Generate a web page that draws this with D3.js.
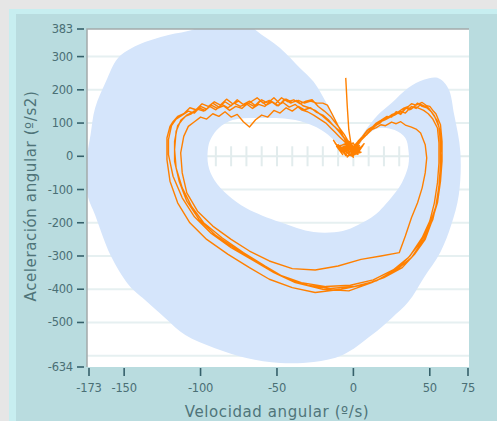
<!DOCTYPE html>
<html>
<head>
<meta charset="utf-8">
<script src="https://cdn.jsdelivr.net/npm/d3@7"></script>
<style>
    body { margin: 0; background: #e6e6e6; }
    .tickLabel { font-family: "DejaVu Sans", sans-serif; font-size: 11.5px; fill: #4a6f75; letter-spacing: -0.2px; }
    .axisTitle { font-family: "DejaVu Sans", sans-serif; font-size: 15px; fill: #4f7479; letter-spacing: 0.6px; }
</style>
</head>
<body>
<script>
//SVG dimension variables
var w = 497, h = 421;

//tick values of both axes
var yTicks = [383, 300, 200, 100, 0, -100, -200, -300, -400, -500, -634];
var xTicks = [-173, -150, -100, -50, 0, 50, 75];
var gridLevels = [300, 200, 100, -100, -200, -300, -400, -500, -600];
var minorTicks = [-130, -120, -110, -100, -90, -80, -70, -60, -50, -40, -30, -20, -10, 0, 10, 20, 30, 40, 50];

//normal range band (velocity, acceleration): outer edge and hole
var bandOuter = [
    [-84, 440], [-104, 383], [-121, 365], [-141, 335], [-154, 296], [-162, 224], [-169, 145],
    [-172, 64], [-175, -26], [-174, -116], [-169, -177], [-159, -297], [-147, -387],
    [-138, -426], [-123, -487], [-110, -538], [-91, -577], [-70, -607], [-48, -622],
    [-26, -619], [-7, -598], [12, -538], [25, -487], [36, -438], [46, -366], [57, -288],
    [64, -207], [69, -116], [70, 13], [66, 124], [62, 205], [55, 236], [46, 230],
    [36, 206], [25, 160], [16, 124], [8, 79], [-1, 25], [-6, 49], [-11, 103], [-18, 163],
    [-26, 224], [-35, 266], [-48, 326], [-64, 380], [-74, 425]
];
var bandInner = [
    [-93, 55], [-95, 28], [-95, -26], [-91, -71], [-82, -117], [-70, -156], [-48, -198],
    [-26, -228], [-7, -225], [3, -207], [14, -177], [25, -123], [31, -86], [36, -26],
    [36, 19], [34, 55], [27, 79], [17, 85], [8, 61], [-1, 4], [-9, 34], [-19, 73],
    [-26, 91], [-38, 109], [-59, 115], [-79, 109], [-88, 85]
];

//measured trace (velocity, acceleration), in recording order
var spike = [[-5, 236], [-4, 150], [-3, 80], [-1, 20]];
var cycle1 = [
    [-1, 19], [3, 45], [6, 60], [9, 78], [12, 86], [15, 100], [18, 108], [22, 120], [25, 118],
    [28, 134], [31, 128], [34, 146], [37, 140], [40, 150], [43, 144], [46, 138], [49, 128],
    [52, 112], [55, 85], [56, 40], [56, -20], [55, -80], [53, -140], [50, -195], [45, -245],
    [37, -300], [28, -340], [15, -375], [0, -392], [-15, -398], [-30, -388], [-45, -365],
    [-58, -330], [-72, -290], [-86, -245], [-98, -200], [-106, -150], [-112, -95], [-116, -35],
    [-117, 20], [-116, 75], [-113, 108], [-110, 120], [-106, 128], [-102, 142], [-98, 136],
    [-94, 150], [-90, 140], [-86, 156], [-82, 146], [-78, 160], [-74, 150], [-70, 158],
    [-66, 144], [-62, 156], [-58, 150], [-54, 166], [-50, 152], [-46, 162], [-42, 148],
    [-38, 156], [-34, 140], [-30, 134], [-26, 124], [-22, 112], [-18, 100], [-15, 86],
    [-12, 72], [-9, 58], [-6, 45], [-2, 25]
];
var noise1 = [[-3, 30], [-8, 15], [-12, 40], [-6, 8], [-10, 28], [-2, 45], [1, 5], [-5, 22], [4, 32], [-4, -2], [-1, 25], [3, 10], [7, 38], [0, 2], [2, 18]];
var cycle2 = [
    [2, 30], [5, 48], [8, 62], [11, 80], [14, 92], [17, 98], [20, 112], [24, 120], [28, 132],
    [31, 126], [35, 148], [38, 142], [42, 160], [45, 150], [48, 146], [51, 134], [53, 120],
    [55, 106], [57, 70], [58, 10], [57, -60], [55, -130], [52, -190], [46, -250], [38, -305],
    [26, -350], [12, -380], [-3, -405], [-20, -400], [-38, -380], [-52, -350], [-65, -315],
    [-80, -275], [-93, -232], [-104, -182], [-112, -125], [-118, -60], [-121, 5], [-121, 50],
    [-119, 92], [-116, 112], [-112, 124], [-108, 136], [-104, 130], [-100, 150], [-96, 142],
    [-92, 160], [-88, 148], [-84, 164], [-80, 152], [-76, 170], [-72, 156], [-68, 166],
    [-64, 152], [-60, 170], [-56, 160], [-52, 176], [-48, 158], [-44, 172], [-40, 162],
    [-36, 168], [-32, 160], [-28, 166], [-24, 160], [-20, 160], [-17, 154], [-14, 128],
    [-12, 110], [-10, 92], [-8, 73], [-5, 45], [-3, 30]
];
var noise2 = [[-9, 22], [-13, 48], [-7, 5], [-11, 30], [-3, 38], [0, -3], [-6, 18], [2, 28], [-2, 2], [5, 12], [-2, 20]];
var cycle3 = [
    [0, 20], [3, 38], [6, 55], [9, 66], [12, 80], [15, 86], [18, 95], [21, 92], [25, 103],
    [28, 98], [31, 104], [34, 94], [38, 88], [41, 82], [44, 70], [47, 35], [48, -5], [47, -50],
    [45, -95], [42, -140], [38, -185], [34, -240], [30, -290], [18, -300], [5, -310],
    [-10, -330], [-25, -342], [-40, -338], [-55, -315], [-68, -285], [-80, -250], [-92, -210],
    [-102, -165], [-109, -110], [-112, -50], [-113, 10], [-111, 60], [-108, 90], [-104, 104],
    [-100, 118], [-96, 112], [-92, 128], [-88, 120], [-84, 134], [-80, 118], [-76, 126],
    [-72, 104], [-68, 88], [-64, 110], [-60, 124], [-56, 118], [-52, 138], [-48, 130],
    [-44, 146], [-40, 136], [-36, 150], [-32, 140], [-28, 146], [-24, 132], [-20, 124],
    [-16, 108], [-13, 92], [-10, 80], [-7, 62], [-5, 50], [-1, 28]
];
var noise3 = [[-6, 12], [-10, 35], [-4, 0], [-8, 26], [0, 40], [3, 6], [-3, 14], [6, 30], [1, 15]];
var cycle4 = [
    [-2, 18], [1, 34], [4, 50], [7, 64], [10, 82], [13, 90], [17, 105], [21, 112], [25, 125],
    [29, 132], [33, 145], [36, 150], [38, 158], [41, 154], [45, 162], [48, 152], [50, 150],
    [52, 138], [54, 128], [57, 95], [58, 45], [58, -15], [57, -75], [55, -140], [51, -200],
    [47, -250], [40, -295], [32, -335], [20, -365], [8, -385], [-8, -400], [-25, -410],
    [-40, -395], [-55, -370], [-68, -335], [-82, -295], [-96, -250], [-107, -200],
    [-115, -140], [-120, -75], [-122, -10], [-122, 55], [-120, 90], [-118, 104], [-115, 120],
    [-111, 128], [-107, 146], [-103, 140], [-99, 158], [-95, 150], [-91, 164], [-87, 154],
    [-83, 172], [-79, 158], [-75, 166], [-71, 152], [-67, 164], [-63, 176], [-59, 160],
    [-55, 168], [-51, 158], [-47, 176], [-43, 164], [-39, 170], [-35, 158], [-31, 166],
    [-27, 170], [-23, 150], [-19, 136], [-15, 120], [-12, 102], [-9, 85], [-6, 66],
    [-4, 50], [0, 25]
];
var noise4 = [[-4, 10], [-9, 32], [-5, 2], [-1, 36], [2, 8], [-2, 22]];
var cycle5 = [
    [1, 22], [5, 48], [8, 62], [11, 80], [14, 90], [18, 104], [21, 110], [24, 118], [27, 124],
    [31, 135], [34, 130], [38, 150], [41, 144], [44, 156], [47, 150], [49, 146], [51, 134],
    [53, 122], [56, 88], [57, 40], [57, -25], [56, -90], [54, -150], [50, -205], [44, -258],
    [36, -305], [26, -342], [13, -372], [-2, -388], [-18, -392], [-34, -380], [-48, -358],
    [-62, -322], [-76, -282], [-90, -238], [-101, -190], [-109, -135], [-114, -75],
    [-117, -15], [-117, 45], [-115, 92], [-112, 110], [-109, 124], [-105, 134], [-101, 146],
    [-97, 138], [-93, 154], [-89, 144], [-85, 152], [-81, 138], [-77, 150], [-73, 144],
    [-69, 160], [-65, 150], [-61, 168], [-57, 154], [-53, 164], [-49, 152], [-45, 172],
    [-41, 160], [-37, 168], [-33, 152], [-29, 146], [-25, 138], [-21, 124], [-18, 112],
    [-15, 100], [-12, 88], [-9, 72], [-7, 60], [-3, 35], [-6, 15], [-1, 28]
];
var trace = [].concat(spike, cycle1, noise1, cycle2, noise2, cycle3, noise3, cycle4, noise4, cycle5);

//container block
var container = d3.select("body")
    .append("svg")
    .attr("width", w)
    .attr("height", h)
    .attr("class", "container");

//gray page, light cyan rim and teal panel
container.append("rect")
    .attr("width", w)
    .attr("height", h)
    .style("fill", "#e6e6e6");
container.append("rect")
    .attr("x", 9)
    .attr("y", 9)
    .attr("width", w - 9)
    .attr("height", h - 9)
    .style("fill", "#c7eef0");
container.append("rect")
    .attr("x", 16)
    .attr("y", 14)
    .attr("width", w - 16)
    .attr("height", h - 14)
    .style("fill", "#b9dcdf");

//scales
var x = d3.scaleLinear()
    .domain([-173, 75])
    .range([89, 468]);
var y = d3.scaleLinear()
    .domain([-634, 383])
    .range([367, 29]);

//plot edges (plotTop, since "top" is taken by window)
var plotLeft = x(-173) - 2, plotRight = x(75) + 1, plotTop = y(383), plotBottom = y(-634);

//plot area
container.append("rect")
    .attr("class", "plotArea")
    .attr("x", plotLeft)
    .attr("y", plotTop)
    .attr("width", plotRight - plotLeft)
    .attr("height", plotBottom - plotTop)
    .style("fill", "#ffffff");

container.append("clipPath")
    .attr("id", "plotClip")
    .append("rect")
    .attr("x", plotLeft)
    .attr("y", plotTop)
    .attr("width", plotRight - plotLeft)
    .attr("height", plotBottom - plotTop);

var plot = container.append("g")
    .attr("clip-path", "url(#plotClip)");

//horizontal gridlines
plot.selectAll(".grid")
    .data(gridLevels)
    .enter()
    .append("line")
    .attr("class", "grid")
    .attr("x1", plotLeft)
    .attr("x2", plotRight)
    .attr("y1", function(d){ return y(d); })
    .attr("y2", function(d){ return y(d); })
    .style("stroke", "#e6f0f1")
    .style("stroke-width", 2);

//zero line with little ticks
plot.append("line")
    .attr("x1", plotLeft)
    .attr("x2", plotRight)
    .attr("y1", y(0))
    .attr("y2", y(0))
    .style("stroke", "#e2eced")
    .style("stroke-width", 2);
plot.selectAll(".minor")
    .data(minorTicks)
    .enter()
    .append("line")
    .attr("class", "minor")
    .attr("x1", function(d){ return x(d); })
    .attr("x2", function(d){ return x(d); })
    .attr("y1", y(0) - 10)
    .attr("y2", y(0) + 10)
    .style("stroke", "#e2eced")
    .style("stroke-width", 2);

//normal range band, hole cut by evenodd
var bandLine = d3.line()
    .x(function(d){ return x(d[0]); })
    .y(function(d){ return y(d[1]); })
    .curve(d3.curveCatmullRomClosed.alpha(0.5));

plot.append("path")
    .attr("class", "band")
    .attr("d", bandLine(bandOuter) + bandLine(bandInner))
    .style("fill", "#d5e5fb")
    .style("fill-rule", "evenodd");

//trace
var traceLine = d3.line()
    .x(function(d){ return x(d[0]); })
    .y(function(d){ return y(d[1]); });

plot.append("path")
    .attr("class", "trace")
    .attr("d", traceLine(trace))
    .style("fill", "none")
    .style("stroke", "#ff8000")
    .style("stroke-width", 1.4)
    .style("stroke-linejoin", "round");

//frame: top and left edges only
container.append("path")
    .attr("d", "M" + plotLeft + "," + plotBottom + "V" + plotTop + "H" + plotRight)
    .style("fill", "none")
    .style("stroke", "#a3a9aa")
    .style("stroke-width", 1.5);

//y axis ticks and labels
var yAxis = container.append("g").attr("class", "yAxis");
yAxis.selectAll("line")
    .data(yTicks)
    .enter()
    .append("line")
    .attr("x1", 77)
    .attr("x2", 84)
    .attr("y1", function(d){ return y(d); })
    .attr("y2", function(d){ return y(d); })
    .style("stroke", "#35606a")
    .style("stroke-width", 1.6);
yAxis.selectAll("text")
    .data(yTicks)
    .enter()
    .append("text")
    .attr("class", "tickLabel")
    .attr("x", 73)
    .attr("y", function(d){ return y(d) + 4; })
    .attr("text-anchor", "end")
    .text(function(d){ return d; });

//x axis ticks and labels
var xAxis = container.append("g").attr("class", "xAxis");
xAxis.selectAll("line")
    .data(xTicks)
    .enter()
    .append("line")
    .attr("x1", function(d){ return x(d); })
    .attr("x2", function(d){ return x(d); })
    .attr("y1", 368)
    .attr("y2", 376)
    .style("stroke", "#35606a")
    .style("stroke-width", 1.6);
xAxis.selectAll("text")
    .data(xTicks)
    .enter()
    .append("text")
    .attr("class", "tickLabel")
    .attr("x", function(d){ return x(d); })
    .attr("y", 392)
    .attr("text-anchor", "middle")
    .text(function(d){ return d; });

//axis titles
container.append("text")
    .attr("class", "axisTitle")
    .attr("x", 277)
    .attr("y", 417)
    .attr("text-anchor", "middle")
    .text("Velocidad angular (º/s)");

container.append("text")
    .attr("class", "axisTitle")
    .attr("transform", "translate(36, 196) rotate(-90)")
    .attr("text-anchor", "middle")
    .text("Aceleración angular (º/s2)");
</script>
</body>
</html>
